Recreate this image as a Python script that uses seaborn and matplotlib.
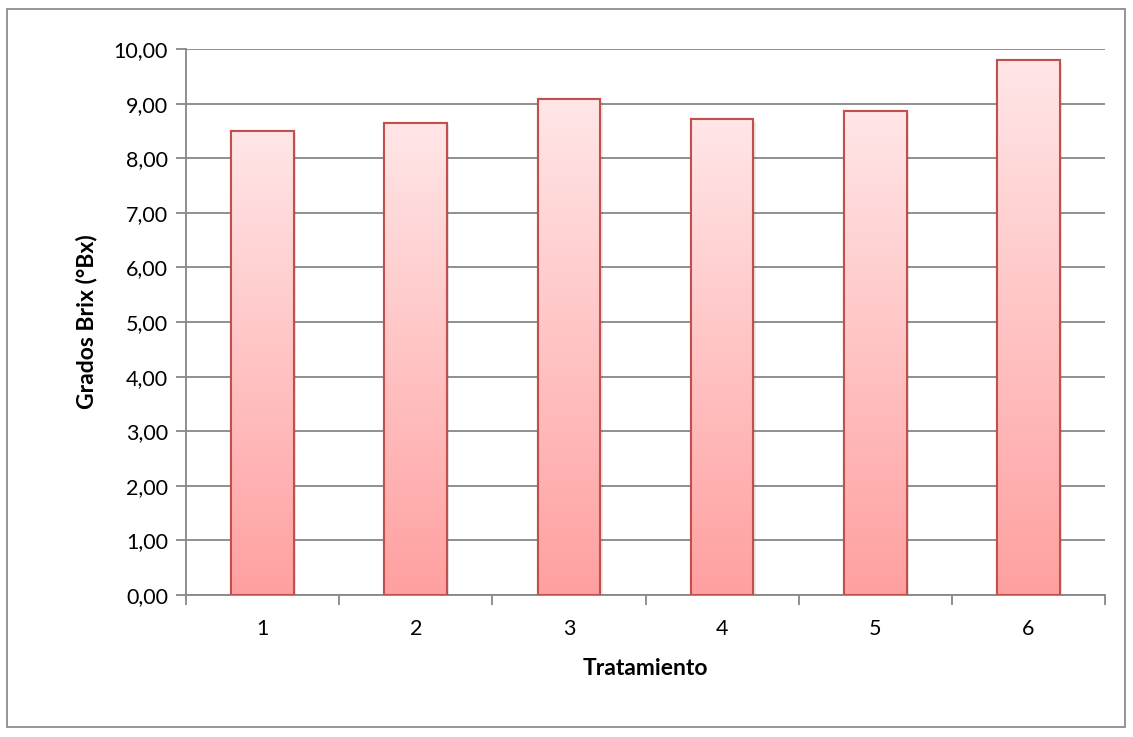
import numpy as np
import matplotlib
matplotlib.use("Agg")
import matplotlib.pyplot as plt
import seaborn as sns
from matplotlib.patches import Rectangle
from matplotlib.colors import LinearSegmentedColormap
from matplotlib.ticker import FuncFormatter

# Data
tratamientos = ["1", "2", "3", "4", "5", "6"]
grados_brix = [8.50, 8.64, 9.08, 8.71, 8.86, 9.79]
y_ticks = [0, 1, 2, 3, 4, 5, 6, 7, 8, 9, 10]

sns.set_theme(style="white")
plt.rcParams["font.family"] = ["Lato", "DejaVu Sans"]

fig = plt.figure(figsize=(11.33, 7.37), dpi=100)
ax = fig.add_axes([186 / 1133, 1 - 595 / 737, (1105 - 186) / 1133, (595 - 49) / 737])

# Outer chart frame
fig.patches.append(Rectangle((7 / 1133, 1 - 727 / 737), 1118 / 1133, 718 / 737,
                             transform=fig.transFigure, fill=False,
                             edgecolor="#8c8c8c", linewidth=1.3))

sns.barplot(x=tratamientos, y=grados_brix, ax=ax, width=0.41,
            color="#ffc8c8", edgecolor="#c0504d", linewidth=1.5, zorder=3)

# Vertical gradient fill, clipped to each bar
cmap = LinearSegmentedColormap.from_list("pink", ["#ffa0a0", "#ffe6e7"])
grad = np.linspace(0, 1, 256).reshape(-1, 1)
for patch in ax.patches:
    x0, y0 = patch.get_x(), patch.get_y()
    w, h = patch.get_width(), patch.get_height()
    # soft shadow
    ax.add_patch(Rectangle((x0 + 0.015, y0), w, h - 0.04, facecolor="#000000",
                           alpha=0.08, edgecolor="none", zorder=2))
    im = ax.imshow(grad, extent=[x0, x0 + w, y0, y0 + h], origin="lower",
                   cmap=cmap, aspect="auto", zorder=3.5)
    im.set_clip_path(patch)
    edge = Rectangle((x0, y0), w, h, fill=False, edgecolor="#c0504d",
                     linewidth=1.5, zorder=4)
    ax.add_patch(edge)

ax.set_xlim(-0.5, len(tratamientos) - 0.5)
ax.set_ylim(0, 10)
ax.set_yticks(y_ticks)
ax.yaxis.set_major_formatter(FuncFormatter(lambda v, p: f"{v:.2f}".replace(".", ",")))
ax.grid(axis="y", color="#878787", linewidth=1.3, zorder=0)
ax.set_axisbelow(True)

ax.set_xticks(np.arange(len(tratamientos)))
ax.set_xticklabels(tratamientos)
ax.set_xticks(np.arange(-0.5, len(tratamientos)), minor=True)
ax.tick_params(axis="x", which="major", length=0, pad=17, labelsize=15.5, colors="black")
ax.tick_params(axis="x", which="minor", bottom=True, length=7, width=1.3,
               color="#878787", direction="out")
ax.tick_params(axis="y", length=7, width=1.3, color="#878787", direction="out",
               labelsize=15.5, pad=6, left=True, labelcolor="black")

for side in ["top", "right"]:
    ax.spines[side].set_visible(False)
for side in ["left", "bottom"]:
    ax.spines[side].set_color("#878787")
    ax.spines[side].set_linewidth(1.3)

ax.set_xlabel("Tratamiento", fontsize=16.5, fontweight="bold", labelpad=14, color="black")
ax.set_ylabel("Grados Brix (°Bx)", fontsize=16.5, fontweight="bold", labelpad=12, color="black")

fig.savefig("out.png", dpi=100)
